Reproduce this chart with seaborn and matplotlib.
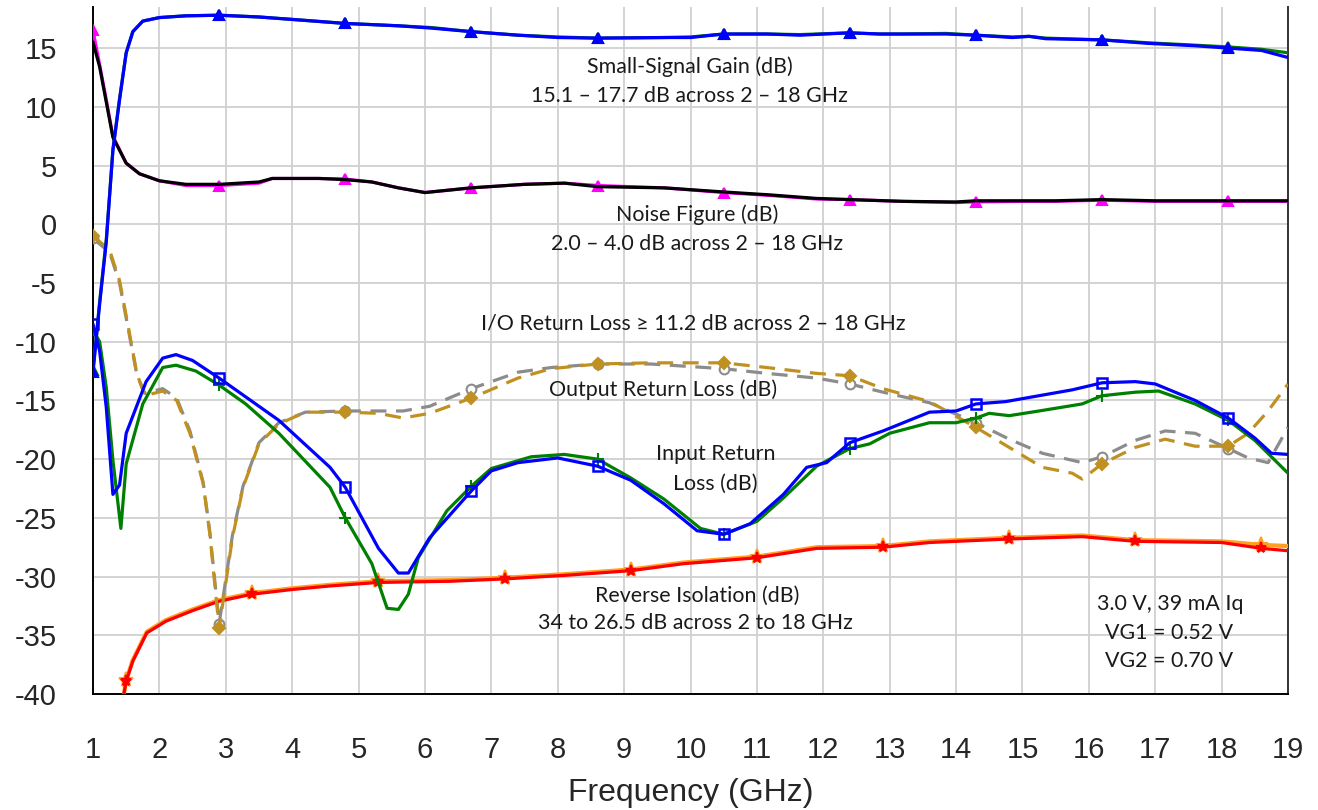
import numpy as np
import pandas as pd
import matplotlib
matplotlib.use("Agg")
import matplotlib.pyplot as plt
import seaborn as sns

# ---------------- data ----------------
MARK_X = [1.0, 2.9, 4.8, 6.7, 8.6, 10.5, 12.4, 14.3, 16.2, 18.1]
ISO_MARK_X = [1.5, 3.4, 5.3, 7.2, 9.1, 11.0, 12.9, 14.8, 16.7, 18.6]

gain_x = [1.0, 1.1, 1.2, 1.3, 1.4, 1.5, 1.6, 1.75, 2.0, 2.4, 2.9, 3.5, 4.1, 4.8, 5.6, 6.1,
          6.7, 7.4, 8.0, 8.6, 9.6, 10.0, 10.5, 11.15, 11.65, 12.4, 12.85, 13.15, 13.85,
          14.3, 14.85, 15.1, 15.35, 16.2, 16.9, 17.6, 18.1, 18.6, 19.0]
gain_blue = [-12.6, -6.8, -1.5, 6.3, 10.6, 14.6, 16.4, 17.3, 17.6, 17.75, 17.8, 17.65, 17.4,
             17.1, 16.9, 16.7, 16.4, 16.1, 15.9, 15.85, 15.9, 15.9, 16.2, 16.2, 16.1, 16.3,
             16.2, 16.2, 16.2, 16.1, 15.9, 16.0, 15.8, 15.7, 15.4, 15.2, 15.0, 14.8, 14.2]
gain_green = [-12.4, -6.6, -1.3, 6.4, 10.7, 14.6, 16.4, 17.3, 17.6, 17.75, 17.8, 17.65, 17.4,
              17.1, 16.9, 16.75, 16.4, 16.1, 15.95, 15.85, 15.9, 15.95, 16.2, 16.2, 16.15, 16.3,
              16.2, 16.2, 16.25, 16.1, 15.95, 16.0, 15.85, 15.7, 15.45, 15.25, 15.1, 14.9, 14.6]

nf_x = [1.0, 1.1, 1.2, 1.3, 1.5, 1.7, 2.0, 2.4, 2.9, 3.5, 3.7, 4.4, 4.8, 5.2, 5.6, 6.0, 6.7,
        7.5, 8.1, 8.6, 9.6, 10.5, 11.2, 11.9, 12.4, 13.2, 14.0, 14.3, 15.0, 15.5, 16.2, 17.0,
        18.1, 19.0]
nf_black = [15.5, 13.4, 10.4, 7.4, 5.2, 4.3, 3.7, 3.4, 3.4, 3.6, 3.9, 3.9, 3.8, 3.6, 3.1, 2.7,
            3.1, 3.4, 3.5, 3.2, 3.1, 2.75, 2.5, 2.2, 2.1, 1.95, 1.9, 2.0, 2.0, 2.0, 2.1, 2.0,
            2.0, 2.0]
nf_magenta = [16.5, 13.6, 10.6, 7.5, 5.2, 4.3, 3.7, 3.3, 3.3, 3.5, 3.9, 3.9, 3.85, 3.6, 3.1,
              2.7, 3.1, 3.4, 3.5, 3.3, 3.1, 2.7, 2.45, 2.15, 2.1, 1.95, 1.85, 1.9, 1.95, 1.95,
              2.05, 1.95, 1.95, 1.95]

irl_b_x = [1.0, 1.1, 1.2, 1.3, 1.4, 1.5, 1.8, 2.05, 2.25, 2.5, 2.9, 3.3, 3.8, 4.57, 4.8, 5.3,
           5.6, 5.75, 6.07, 6.7, 7.0, 7.4, 8.0, 8.6, 9.1, 9.6, 10.1, 10.5, 10.9, 11.4, 11.75,
           12.05, 12.4, 12.9, 13.6, 14.0, 14.3, 14.75, 15.25, 15.75, 16.2, 16.7, 17.0, 17.6,
           18.1, 18.5, 18.75, 19.0]
irl_blue = [-8.5, -10.8, -15.6, -23.0, -22.2, -17.8, -13.4, -11.4, -11.1, -11.6, -13.1, -14.7,
            -16.7, -20.7, -22.4, -27.6, -29.7, -29.7, -26.7, -22.7, -21.0, -20.3, -19.9, -20.6,
            -21.8, -23.8, -26.1, -26.4, -25.5, -23.0, -20.7, -20.3, -18.6, -17.6, -16.0, -15.9,
            -15.3, -15.1, -14.6, -14.1, -13.5, -13.4, -13.6, -15.0, -16.5, -18.2, -19.5, -19.6]

irl_g_x = [1.0, 1.1, 1.2, 1.3, 1.42, 1.5, 1.75, 2.05, 2.25, 2.55, 2.9, 3.3, 3.8, 4.57, 4.8,
           5.2, 5.43, 5.6, 5.75, 5.9, 6.33, 6.7, 7.0, 7.6, 8.1, 8.6, 9.1, 9.6, 10.15, 10.5,
           11.0, 11.4, 11.9, 12.4, 12.7, 13.0, 13.6, 14.0, 14.3, 14.5, 14.8, 15.25, 15.9,
           16.2, 16.7, 17.05, 17.6, 18.1, 18.5, 19.0]
irl_green = [-9.0, -10.0, -13.9, -20.1, -25.9, -20.4, -15.3, -12.2, -12.0, -12.5, -13.7, -15.3,
             -17.8, -22.4, -25.0, -28.9, -32.7, -32.8, -31.5, -28.4, -24.4, -22.3, -20.8, -19.8,
             -19.6, -20.0, -21.6, -23.4, -25.9, -26.4, -25.3, -23.3, -20.6, -19.1, -18.7, -17.8,
             -16.9, -16.9, -16.5, -16.1, -16.3, -15.9, -15.3, -14.6, -14.3, -14.2, -15.3, -16.7,
             -18.4, -21.2]

orl_x = [1.0, 1.25, 1.4, 1.55, 1.66, 1.78, 2.05, 2.26, 2.46, 2.66, 2.76, 2.9, 3.1, 3.26, 3.5,
         3.8, 4.2, 4.8, 5.3, 5.67, 6.07, 6.7, 7.4, 7.9, 8.6, 9.4, 10.5, 11.15, 11.9, 12.4, 12.9,
         13.6, 14.3, 14.8, 15.3, 15.75, 15.9, 16.2, 16.7, 17.15, 17.6, 18.1, 18.4, 18.7, 19.0]
orl_gold = [-1.0, -2.2, -4.8, -9.3, -12.7, -14.6, -14.2, -15.0, -17.8, -22.1, -26.4, -34.4,
            -26.7, -22.4, -18.7, -17.0, -16.0, -16.0, -16.1, -16.5, -16.1, -14.8, -13.1, -12.3,
            -11.9, -11.8, -11.8, -12.2, -12.7, -12.9, -14.0, -15.1, -17.3, -19.0, -20.7, -21.2,
            -21.7, -20.4, -19.0, -18.3, -18.9, -18.9, -17.8, -15.9, -13.6]
orl_gray = [-1.2, -2.4, -5.0, -9.5, -12.8, -14.4, -14.0, -14.8, -17.6, -22.0, -26.2, -34.0,
            -26.5, -22.3, -18.6, -16.9, -16.0, -15.9, -15.9, -15.9, -15.5, -14.0, -12.6, -12.2,
            -11.9, -11.9, -12.3, -12.7, -13.1, -13.6, -14.3, -15.2, -16.9, -18.3, -19.5, -20.1,
            -20.3, -19.8, -18.4, -17.6, -17.8, -19.1, -19.9, -20.3, -17.3]

iso_x = [1.45, 1.5, 1.6, 1.81, 2.1, 2.5, 2.9, 3.4, 4.0, 4.57, 5.3, 6.38, 7.2, 8.1, 9.1, 9.9,
         11.0, 11.9, 12.9, 13.6, 14.0, 14.8, 15.9, 16.7, 18.0, 18.6, 19.0]
iso_red = [-40.5, -38.9, -37.2, -34.8, -33.8, -32.9, -32.1, -31.5, -31.1, -30.8, -30.5, -30.4,
           -30.2, -29.9, -29.5, -28.9, -28.4, -27.6, -27.5, -27.1, -27.0, -26.8, -26.6, -27.0,
           -27.1, -27.6, -27.8]
iso_orange = [-40.5, -38.8, -37.1, -34.7, -33.7, -32.8, -32.0, -31.4, -31.0, -30.7, -30.4,
              -30.3, -30.1, -29.8, -29.4, -28.8, -28.3, -27.5, -27.4, -27.0, -26.9, -26.7,
              -26.5, -26.9, -27.0, -27.3, -27.4]

x_ticks = list(range(1, 20))
y_ticks = list(range(-40, 16, 5))

# ---------------- figure ----------------
sns.set_style("white")
plt.rcParams['font.family'] = ['Liberation Sans', 'DejaVu Sans']
plt.rcParams['axes.unicode_minus'] = False

fig = plt.figure(figsize=(13.18, 8.10), dpi=100)
ax = fig.add_axes([93 / 1318, 1 - 694 / 810, (1288 - 93) / 1318, (694 - 7) / 810])

def draw(x, y, color, mx, marker=None, ms=7, lw=2.3, z=2, ls='-', mfc=None, mec=None, mew=1.5):
    xa = np.round(np.asarray(x, dtype=float), 2)
    mask = list(np.isin(xa, np.round(mx, 2)))
    df = pd.DataFrame({"f": xa, "v": y})
    kws = dict(color=color, lw=lw, zorder=z, linestyle=ls, ax=ax)
    if marker is not None:
        kws.update(marker=marker, markevery=mask, markersize=ms,
                   markerfacecolor=mfc if mfc is not None else color,
                   markeredgecolor=mec if mec is not None else color,
                   markeredgewidth=mew)
    sns.lineplot(data=df, x="f", y="v", sort=False, estimator=None, **kws)

dash = (0, (5, 3))
# reverse isolation
draw(iso_x, iso_orange, '#FFA020', ISO_MARK_X, marker='*', ms=11, lw=3.0, z=3)
draw(iso_x, iso_red, '#FF0000', ISO_MARK_X, marker='*', ms=8, lw=2.3, z=4)
# output return loss
draw(orl_x, orl_gray, '#8C8C8C', MARK_X, marker='o', ms=7, z=3, ls=dash, mfc='white')
draw(orl_x, orl_gold, '#C09020', MARK_X, marker='D', ms=6, z=4, ls=dash)
# input return loss
draw(irl_g_x, irl_green, '#008000', MARK_X, marker='+', ms=8, z=5)
draw(irl_b_x, irl_blue, '#0000FF', MARK_X, marker='s', ms=7, z=6, mfc='none', mew=1.8)
# noise figure
draw(nf_x, nf_magenta, '#FF00FF', MARK_X, marker='^', ms=7, z=5)
draw(nf_x, nf_black, '#000000', MARK_X, z=6)
# gain
draw(gain_x, gain_green, '#008000', MARK_X, marker='^', ms=7.5, z=5)
draw(gain_x, gain_blue, '#0000FF', MARK_X, marker='^', ms=6.5, z=6)

ax.set_xlim(1, 19)
ax.set_ylim(-40, 18.5)
ax.set_xticks(x_ticks)
ax.set_yticks(y_ticks)
ax.grid(True, color='#D0D0D0', lw=1.3)
ax.set_axisbelow(True)
ax.tick_params(axis='both', length=0, labelsize=21)
ax.tick_params(axis='y', pad=26)
ax.tick_params(axis='x', pad=30)
ax.set_xlabel("Frequency (GHz)", fontsize=23, labelpad=10)
ax.set_ylabel("")
for s in ['left', 'bottom', 'right']:
    ax.spines[s].set_color('#000000')
    ax.spines[s].set_linewidth(1.4)
ax.spines['right'].set_color('#333333')
ax.spines['top'].set_visible(False)

tfont = dict(fontsize=15.4, family=['Lato', 'DejaVu Sans'], ha='center', va='center',
             color='#1A1A1A', zorder=10)
ax.text(9.99, 13.4, "Small-Signal Gain (dB)", **tfont)
ax.text(9.99, 10.9, "15.1 – 17.7 dB across 2 – 18 GHz", **tfont)
ax.text(10.1, 0.84, "Noise Figure (dB)", **tfont)
ax.text(10.1, -1.64, "2.0 – 4.0 dB across 2 – 18 GHz", **tfont)
ax.text(10.04, -8.46, "I/O Return Loss ≥ 11.2 dB across 2 – 18 GHz", **tfont)
ax.text(9.58, -14.1, "Output Return Loss (dB)", **tfont)
ax.text(10.38, -19.56, "Input Return", **tfont)
ax.text(10.38, -22.1, "Loss (dB)", **tfont)
ax.text(10.1, -31.67, "Reverse Isolation (dB)", **tfont)
ax.text(10.08, -33.98, "34 to 26.5 dB across 2 to 18 GHz", **tfont)
ax.text(17.22, -32.35, "3.0 V, 39 mA Iq", **tfont)
ax.text(17.21, -34.83, "VG1 = 0.52 V", **tfont)
ax.text(17.21, -37.2, "VG2 = 0.70 V", **tfont)

fig.savefig("out.png", dpi=100)
